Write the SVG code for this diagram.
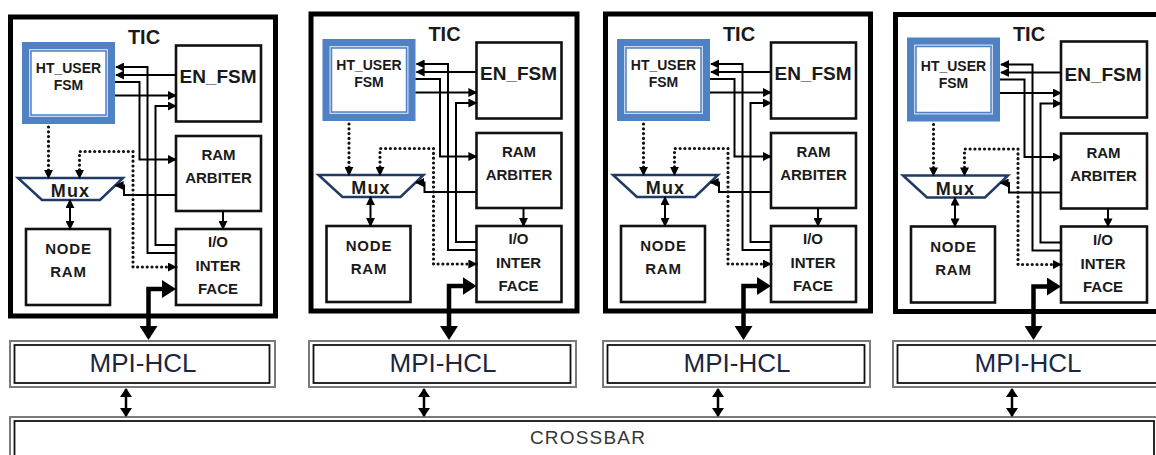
<svg xmlns="http://www.w3.org/2000/svg" width="1156" height="455" viewBox="0 0 1156 455">
<defs>
<style>
.outer{fill:none;stroke:#000;stroke-width:5}
.box{fill:#fff;stroke:#111;stroke-width:2.6}
.lbl{font-family:"Liberation Sans",Arial,sans-serif;font-weight:bold;fill:#1a1a1a;text-anchor:middle}
.ln{fill:none;stroke:#000;stroke-width:2}
.dot{fill:none;stroke:#111;stroke-width:3.2;stroke-dasharray:0 4.8;stroke-linecap:round}
.thick{fill:none;stroke:#000;stroke-width:4.5}
.dbl{fill:none;stroke:#000;stroke-width:2.5}
.mpo{fill:#fff;stroke:#7a7a7a;stroke-width:2}
.mpi{fill:none;stroke:#111;stroke-width:1.8}
.mpt{font-family:"Liberation Sans",Arial,sans-serif;font-size:26px;fill:#1c2640;text-anchor:middle}
.cbt{font-family:"Liberation Sans",Arial,sans-serif;font-size:19px;letter-spacing:1.2px;fill:#363636;text-anchor:middle}
</style>
<marker id="ah" viewBox="0 0 10 10" refX="9" refY="5" markerWidth="9" markerHeight="9" markerUnits="userSpaceOnUse" orient="auto-start-reverse"><path d="M0,0 L10,5 L0,10 z" fill="#000"/></marker>
<marker id="ah2" viewBox="0 0 9 12" refX="8" refY="6" markerWidth="9" markerHeight="12" markerUnits="userSpaceOnUse" orient="auto-start-reverse"><path d="M0,0 L9,6 L0,12 z" fill="#000"/></marker>
<marker id="ahT" viewBox="0 0 14 18" refX="4" refY="9" markerWidth="14" markerHeight="18" markerUnits="userSpaceOnUse" orient="auto-start-reverse"><path d="M0,0 L14,9 L0,18 z" fill="#000"/></marker>
</defs>
<rect width="1156" height="455" fill="#fff"/>

<!-- Crossbar -->
<g id="crossbar">
<rect x="10" y="417" width="1152" height="60" fill="#fff" stroke="#7a7a7a" stroke-width="2"/>
<rect x="14.5" y="421" width="1139.5" height="60" fill="none" stroke="#111" stroke-width="1.8"/>
<text class="cbt" x="588" y="444">CROSSBAR</text>
</g>

<!-- MPI-HCL boxes -->
<g id="mpi1"><rect class="mpo" x="10" y="341" width="265" height="46"/><rect class="mpi" x="14.5" y="345" width="255" height="38"/><text class="mpt" x="143" y="372">MPI-HCL</text></g>
<g id="mpi2"><rect class="mpo" x="309" y="341" width="267" height="46"/><rect class="mpi" x="313.5" y="345" width="257" height="38"/><text class="mpt" x="443" y="372">MPI-HCL</text></g>
<g id="mpi3"><rect class="mpo" x="603" y="341" width="267" height="46"/><rect class="mpi" x="607.5" y="345" width="257" height="38"/><text class="mpt" x="737" y="372">MPI-HCL</text></g>
<g id="mpi4"><rect class="mpo" x="893" y="341" width="272" height="46"/><rect class="mpi" x="897.5" y="345" width="262" height="38"/><text class="mpt" x="1028" y="372">MPI-HCL</text></g>

<!-- TIC block 1 -->
<g id="tic1" transform="translate(10.5,17)">
<g id="t1-tic"><rect class="outer" x="0" y="0" width="265" height="299"/><text class="lbl" x="133.5" y="26.5" font-size="20">TIC</text></g>
<g id="t1-htuser"><rect x="11.5" y="25" width="93" height="82" fill="#4f81c4"/><rect x="18.5" y="32" width="79" height="68" fill="#c9d8ee"/><rect x="20.5" y="34" width="75" height="64" fill="#fff" stroke="#4f81c4" stroke-width="1.5"/><text class="lbl" x="58" y="56" font-size="14">HT_USER</text><text class="lbl" x="58" y="73" font-size="14">FSM</text></g>
<g id="t1-enfsm"><rect class="box" x="165.5" y="28.5" width="85" height="76"/><text class="lbl" x="207.5" y="66" font-size="19">EN_FSM</text></g>
<g id="t1-ramarb"><rect class="box" x="165.5" y="119" width="85" height="75"/><text class="lbl" x="208" y="143" font-size="15">RAM</text><text class="lbl" x="208" y="166" font-size="15">ARBITER</text></g>
<g id="t1-io"><rect class="box" x="165.5" y="212" width="85" height="76"/><text class="lbl" x="207.5" y="230" font-size="15">I/O</text><text class="lbl" x="207.5" y="254" font-size="15">INTER</text><text class="lbl" x="207.5" y="277" font-size="15">FACE</text></g>
<g id="t1-noderam"><rect class="box" x="15.5" y="212" width="84" height="76"/><text class="lbl" x="58" y="237" font-size="15" letter-spacing="0.8">NODE</text><text class="lbl" x="58" y="260" font-size="15" letter-spacing="0.8">RAM</text></g>
<g id="t1-mux"><polygon points="7.5,161 112.5,161 89.5,183 31.5,183" fill="#fff" stroke="#1f3a64" stroke-width="2.5"/><text class="lbl" x="60" y="180" font-size="18" letter-spacing="1.2">Mux</text></g>
</g>

<!-- TIC block 2 -->
<g id="tic2" transform="translate(311,14)">
<g id="t2-tic"><rect class="outer" x="0" y="0" width="266" height="297"/><text class="lbl" x="133.5" y="26.5" font-size="20">TIC</text></g>
<g id="t2-htuser"><rect x="11.5" y="25" width="93" height="82" fill="#4f81c4"/><rect x="18.5" y="32" width="79" height="68" fill="#c9d8ee"/><rect x="20.5" y="34" width="75" height="64" fill="#fff" stroke="#4f81c4" stroke-width="1.5"/><text class="lbl" x="58" y="56" font-size="14">HT_USER</text><text class="lbl" x="58" y="73" font-size="14">FSM</text></g>
<g id="t2-enfsm"><rect class="box" x="165.5" y="28.5" width="85" height="76"/><text class="lbl" x="207.5" y="66" font-size="19">EN_FSM</text></g>
<g id="t2-ramarb"><rect class="box" x="165.5" y="119" width="85" height="75"/><text class="lbl" x="208" y="143" font-size="15">RAM</text><text class="lbl" x="208" y="166" font-size="15">ARBITER</text></g>
<g id="t2-io"><rect class="box" x="165.5" y="212" width="85" height="76"/><text class="lbl" x="207.5" y="230" font-size="15">I/O</text><text class="lbl" x="207.5" y="254" font-size="15">INTER</text><text class="lbl" x="207.5" y="277" font-size="15">FACE</text></g>
<g id="t2-noderam"><rect class="box" x="15.5" y="212" width="84" height="76"/><text class="lbl" x="58" y="237" font-size="15" letter-spacing="0.8">NODE</text><text class="lbl" x="58" y="260" font-size="15" letter-spacing="0.8">RAM</text></g>
<g id="t2-mux"><polygon points="7.5,161 112.5,161 89.5,183 31.5,183" fill="#fff" stroke="#1f3a64" stroke-width="2.5"/><text class="lbl" x="60" y="180" font-size="18" letter-spacing="1.2">Mux</text></g>
</g>

<!-- TIC block 3 -->
<g id="tic3" transform="translate(605.5,14)">
<g id="t3-tic"><rect class="outer" x="0" y="0" width="265" height="297"/><text class="lbl" x="133.5" y="26.5" font-size="20">TIC</text></g>
<g id="t3-htuser"><rect x="11.5" y="25" width="93" height="82" fill="#4f81c4"/><rect x="18.5" y="32" width="79" height="68" fill="#c9d8ee"/><rect x="20.5" y="34" width="75" height="64" fill="#fff" stroke="#4f81c4" stroke-width="1.5"/><text class="lbl" x="58" y="56" font-size="14">HT_USER</text><text class="lbl" x="58" y="73" font-size="14">FSM</text></g>
<g id="t3-enfsm"><rect class="box" x="165.5" y="28.5" width="85" height="76"/><text class="lbl" x="207.5" y="66" font-size="19">EN_FSM</text></g>
<g id="t3-ramarb"><rect class="box" x="165.5" y="119" width="85" height="75"/><text class="lbl" x="208" y="143" font-size="15">RAM</text><text class="lbl" x="208" y="166" font-size="15">ARBITER</text></g>
<g id="t3-io"><rect class="box" x="165.5" y="212" width="85" height="76"/><text class="lbl" x="207.5" y="230" font-size="15">I/O</text><text class="lbl" x="207.5" y="254" font-size="15">INTER</text><text class="lbl" x="207.5" y="277" font-size="15">FACE</text></g>
<g id="t3-noderam"><rect class="box" x="15.5" y="212" width="84" height="76"/><text class="lbl" x="58" y="237" font-size="15" letter-spacing="0.8">NODE</text><text class="lbl" x="58" y="260" font-size="15" letter-spacing="0.8">RAM</text></g>
<g id="t3-mux"><polygon points="7.5,161 112.5,161 89.5,183 31.5,183" fill="#fff" stroke="#1f3a64" stroke-width="2.5"/><text class="lbl" x="60" y="180" font-size="18" letter-spacing="1.2">Mux</text></g>
</g>

<!-- TIC block 4 -->
<g id="tic4" transform="translate(895.5,14.5)">
<g id="t4-tic"><rect class="outer" x="0" y="0" width="265" height="297"/><text class="lbl" x="133.5" y="26.5" font-size="20">TIC</text></g>
<g id="t4-htuser"><rect x="11.5" y="23" width="93" height="84" fill="#4f81c4"/><rect x="18.5" y="30" width="79" height="70" fill="#c9d8ee"/><rect x="20.5" y="32" width="75" height="66" fill="#fff" stroke="#4f81c4" stroke-width="1.5"/><text class="lbl" x="58" y="56" font-size="14">HT_USER</text><text class="lbl" x="58" y="73" font-size="14">FSM</text></g>
<g id="t4-enfsm"><rect class="box" x="165.5" y="27" width="86" height="76"/><text class="lbl" x="207.5" y="66" font-size="19">EN_FSM</text></g>
<g id="t4-ramarb"><rect class="box" x="165.5" y="119" width="86" height="75"/><text class="lbl" x="208" y="143" font-size="15">RAM</text><text class="lbl" x="208" y="166" font-size="15">ARBITER</text></g>
<g id="t4-io"><rect class="box" x="165.5" y="212" width="86" height="76"/><text class="lbl" x="207.5" y="230" font-size="15">I/O</text><text class="lbl" x="207.5" y="254" font-size="15">INTER</text><text class="lbl" x="207.5" y="277" font-size="15">FACE</text></g>
<g id="t4-noderam"><rect class="box" x="15.5" y="212" width="84" height="76"/><text class="lbl" x="58" y="237" font-size="15" letter-spacing="0.8">NODE</text><text class="lbl" x="58" y="260" font-size="15" letter-spacing="0.8">RAM</text></g>
<g id="t4-mux"><polygon points="7.5,161 112.5,161 89.5,183 31.5,183" fill="#fff" stroke="#1f3a64" stroke-width="2.5"/><text class="lbl" x="60" y="180" font-size="18" letter-spacing="1.2">Mux</text></g>
</g>

<!-- Connectors -->
<g id="connectors">
<g id="c1" transform="translate(10.5,17)">
<path class="ln" d="M165.5,236 H137 V50 H105.5" marker-end="url(#ah)"/>
<path class="ln" d="M165.5,58 H105.5" marker-end="url(#ah)"/>
<path class="ln" d="M104.5,65 H129 V142.5 H165.5" marker-end="url(#ah)"/>
<path class="ln" d="M104.5,78.5 H165.5" marker-end="url(#ah)"/>
<path class="ln" d="M165.5,228 H145 V89 H165.5" marker-end="url(#ah)"/>
<path class="ln" d="M165.5,178 H113.5 V168.5 H105" marker-end="url(#ah)"/>
<path class="ln" d="M212.5,194 V212" marker-end="url(#ah)"/>
<path class="dot" d="M38,110 V161" marker-end="url(#ah)"/>
<path class="dot" d="M165.5,250 H122.5 V134.5 H69 V161" marker-start="url(#ah)" marker-end="url(#ah)"/>
<path class="ln" d="M59.5,183 V212" marker-start="url(#ah)" marker-end="url(#ah)"/>
</g>
<g id="c2" transform="translate(311,14)">
<path class="ln" d="M165.5,236 H137 V50 H105.5" marker-end="url(#ah)"/>
<path class="ln" d="M165.5,58 H105.5" marker-end="url(#ah)"/>
<path class="ln" d="M104.5,65 H129 V142.5 H165.5" marker-end="url(#ah)"/>
<path class="ln" d="M104.5,78.5 H165.5" marker-end="url(#ah)"/>
<path class="ln" d="M165.5,228 H145 V89 H165.5" marker-end="url(#ah)"/>
<path class="ln" d="M165.5,178 H113.5 V168.5 H105" marker-end="url(#ah)"/>
<path class="ln" d="M212.5,194 V212" marker-end="url(#ah)"/>
<path class="dot" d="M38,110 V161" marker-end="url(#ah)"/>
<path class="dot" d="M165.5,250 H122.5 V134.5 H69 V161" marker-start="url(#ah)" marker-end="url(#ah)"/>
<path class="ln" d="M59.5,183 V212" marker-start="url(#ah)" marker-end="url(#ah)"/>
</g>
<g id="c3" transform="translate(605.5,14)">
<path class="ln" d="M165.5,236 H137 V50 H105.5" marker-end="url(#ah)"/>
<path class="ln" d="M165.5,58 H105.5" marker-end="url(#ah)"/>
<path class="ln" d="M104.5,65 H129 V142.5 H165.5" marker-end="url(#ah)"/>
<path class="ln" d="M104.5,78.5 H165.5" marker-end="url(#ah)"/>
<path class="ln" d="M165.5,228 H145 V89 H165.5" marker-end="url(#ah)"/>
<path class="ln" d="M165.5,178 H113.5 V168.5 H105" marker-end="url(#ah)"/>
<path class="ln" d="M212.5,194 V212" marker-end="url(#ah)"/>
<path class="dot" d="M38,110 V161" marker-end="url(#ah)"/>
<path class="dot" d="M165.5,250 H122.5 V134.5 H69 V161" marker-start="url(#ah)" marker-end="url(#ah)"/>
<path class="ln" d="M59.5,183 V212" marker-start="url(#ah)" marker-end="url(#ah)"/>
</g>
<g id="c4" transform="translate(895.5,14.5)">
<path class="ln" d="M165.5,236 H137 V50 H105.5" marker-end="url(#ah)"/>
<path class="ln" d="M165.5,58 H105.5" marker-end="url(#ah)"/>
<path class="ln" d="M104.5,65 H129 V142.5 H165.5" marker-end="url(#ah)"/>
<path class="ln" d="M104.5,78.5 H165.5" marker-end="url(#ah)"/>
<path class="ln" d="M165.5,228 H145 V89 H165.5" marker-end="url(#ah)"/>
<path class="ln" d="M165.5,178 H113.5 V168.5 H105" marker-end="url(#ah)"/>
<path class="ln" d="M212.5,194 V212" marker-end="url(#ah)"/>
<path class="dot" d="M38,110 V161" marker-end="url(#ah)"/>
<path class="dot" d="M165.5,250 H122.5 V134.5 H69 V161" marker-start="url(#ah)" marker-end="url(#ah)"/>
<path class="ln" d="M59.5,183 V212" marker-start="url(#ah)" marker-end="url(#ah)"/>
</g>
<!-- thick I/O <-> MPI-HCL -->
<path class="thick" d="M148.5,330 V289 H166" marker-start="url(#ahT)" marker-end="url(#ahT)"/>
<path class="thick" d="M449,330 V286 H466.5" marker-start="url(#ahT)" marker-end="url(#ahT)"/>
<path class="thick" d="M743.5,330 V286 H761" marker-start="url(#ahT)" marker-end="url(#ahT)"/>
<path class="thick" d="M1033.5,330 V286.5 H1051" marker-start="url(#ahT)" marker-end="url(#ahT)"/>
<!-- MPI-HCL <-> CROSSBAR -->
<path class="dbl" d="M126,389 V416" marker-start="url(#ah2)" marker-end="url(#ah2)"/>
<path class="dbl" d="M424,389 V416" marker-start="url(#ah2)" marker-end="url(#ah2)"/>
<path class="dbl" d="M718,389 V416" marker-start="url(#ah2)" marker-end="url(#ah2)"/>
<path class="dbl" d="M1012,389 V416" marker-start="url(#ah2)" marker-end="url(#ah2)"/>
</g>
</svg>
